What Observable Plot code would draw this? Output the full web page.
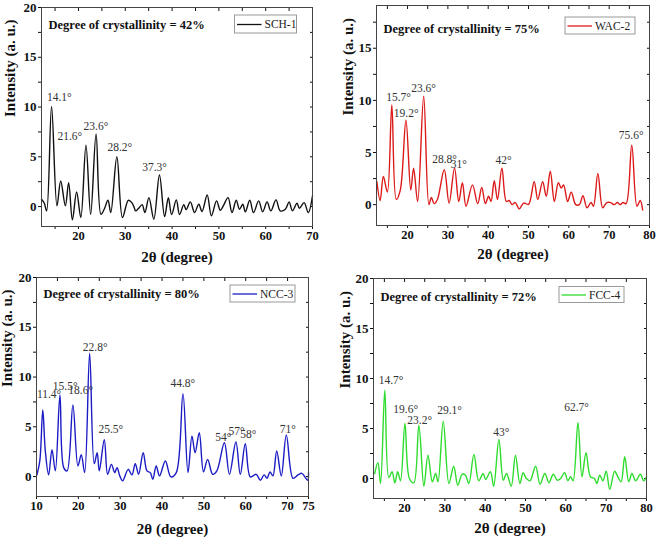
<!DOCTYPE html>
<html><head><meta charset="utf-8">
<script src="https://cdn.jsdelivr.net/npm/d3@7"></script>
<script src="https://cdn.jsdelivr.net/npm/@observablehq/plot@0.6"></script>
<style>
body{margin:0;background:#fff;}
#wrap{position:relative;width:657px;height:543px;background:#fff;overflow:hidden;}
.panel{position:absolute;}
</style></head><body><div id="wrap"></div>
<script>
// ---- SCH-1 ----
const sch1X = [12.1,12.7,13.2,14.25,15.4,16.2,17.2,17.9,18.7,19.6,20.5,21.6,22.6,23.76,24.8,25.5,26.3,26.9,28.2,29.4,30.65,31.4,31.9,32.2,32.8,33.6,34.2,35.05,36.1,37.3,38.4,39.2,39.9,40.9,41.6,42.5,43.0,43.9,44.8,45.7,46.4,47.5,48.4,49.5,50.3,51.0,51.96,52.8,53.7,54.4,55.1,55.65,56.6,57.4,58.5,59.35,60.3,61.1,62.2,63.1,64.2,65.0,65.7,66.7,67.2,68.2,69.1,70];
const sch1Y = [0.73,0.33,-0.43,10.07,0.07,2.57,0.07,2.4,-1.33,1.47,-1.1,6.17,-0.77,7.3,-0.77,-0.27,0.63,-0.6,5.0,-1.1,0.63,0.4,-0.1,-0.43,-0.2,0.2,-0.6,0.9,-1.27,3.17,-1.0,0.9,-0.8,0.67,-0.8,0.2,-0.3,0.47,-0.6,0.23,-0.5,1.17,-0.93,0.57,-0.37,0.13,0.9,-0.6,0.63,-0.27,0.23,-0.53,0.63,-0.6,0.57,-0.53,0.47,-0.43,0.67,-0.43,-0.27,0.47,-0.43,0.33,-0.17,0.4,-0.6,1.07];
const sch1PeakText = ["14.1°","21.6°","23.6°","28.2°","37.3°"];
const sch1PeakX = [13.25,15.5,21.1,26.2,33.6];
const sch1PeakY = [10.6,6.7,7.7,5.6,3.6];

// ---- WAC-2 ----
const wac2X = [12.4,13.2,14.0,15.0,16.1,17.2,18.2,19.6,20.8,21.5,22.5,24.0,25.3,25.9,26.6,27.4,29.1,30.3,31.65,32.7,33.6,34.5,36.1,37.4,38.4,39.3,40.1,40.7,41.5,42.3,43.4,44.5,45.2,45.9,46.7,47.7,48.8,50.0,51.4,52.3,53.5,54.4,55.4,56.4,57.4,58.1,58.7,59.7,60.6,61.7,62.6,63.5,64.5,65.5,66.1,67.2,68.4,69.4,70.4,71.2,72.1,72.7,73.4,74.2,75.6,76.9,77.7,78.3];
const wac2Y = [2.2,0.4,2.7,1.2,9.55,0.5,1.4,8.1,1.4,3.5,0.3,10.4,0,0.7,0.1,0.5,3.35,0.15,3.5,0.3,2.1,-0.15,1.9,0.1,1.65,0.1,0.8,0.3,2.3,0.5,3.5,0.3,0.4,0,0.2,-0.4,0.15,0.03,2.2,0.5,2.2,0.8,3.2,0.3,2.1,1.6,1.9,0.3,1.2,0,0,0.85,-0.3,0.2,-0.15,3.0,-0.3,0.2,0.2,0,0.2,0,0.2,0.1,5.7,-0.15,0.4,-0.5];
const wac2PeakText = ["15.7°","19.2°","23.6°","28.8°","31°","42°","75.6°"];
const wac2PeakX = [14.7,16.6,20.9,26.1,30.7,41.8,72.4];
const wac2PeakY = [9.97,8.4,10.8,4.0,3.5,3.9,6.3];

// ---- NCC-3 ----
const ncc3X = [10.1,10.8,11.5,12.1,12.9,13.7,14.5,15.6,16.5,17.3,18.7,19.9,20.7,21.5,22.7,23.8,24.5,25.0,26.2,27.0,27.9,28.7,29.25,29.9,30.6,31.9,32.8,33.6,34.4,35.5,36.4,37.2,37.8,38.6,39.4,40.8,42.1,43.4,45.0,46.2,47.15,47.9,48.9,49.9,50.9,52.1,53.1,54.9,56.1,57.65,58.7,59.9,61.1,62.5,63.5,64.4,65.1,65.8,66.5,67.4,68.5,69.7,71.3,72.5,73.4,74.8,75];
const ncc3Y = [0.17,1.6,6.7,2.6,0.17,2.7,0.57,8.2,0.9,0.57,7.2,1.07,2.2,0.4,12.4,1.3,2.4,0.57,3.7,0.23,1.23,0.4,0.9,0.07,-0.43,0.73,0.17,1.3,0.23,2.4,0.57,0.4,-0.27,1.07,0.07,1.57,-0.03,0.4,8.33,0.4,4.07,2.4,4.4,0.47,1.73,0.23,0.57,3.4,0.23,3.47,0.23,3.3,-0.03,0.23,-0.37,0.17,-0.17,0.47,0.07,2.57,0.07,4.17,-0.17,0.17,0.33,-0.37,0.4];
const ncc3PeakText = ["11.4°","15.5°","18.6°","22.8°","25.5°","44.8°","54°","57°","58°","71°"];
const ncc3PeakX = [10.1,13.9,17.6,21.06,24.8,42.0,52.7,55.9,58.7,68.1];
const ncc3PeakY = [7.9,8.73,8.33,12.57,4.33,9.0,3.57,4.13,3.9,4.4];

// ---- FCC-4 ----
const fcc4X = [12.6,13.4,14.05,15.1,16.1,16.9,17.6,18.3,19.0,20.1,21.2,22.3,23.55,24.8,25.8,26.9,27.7,28.3,29.6,31.0,32.2,33.2,34.3,35.1,35.95,37.2,38.4,39.5,40.1,41.3,42.1,43.4,44.5,45.3,46.45,47.5,48.6,49.4,50.2,51.1,52.5,53.6,54.8,55.8,56.9,57.85,58.7,59.7,60.5,61.2,61.8,63.0,64.0,65.0,66.1,67.1,67.7,68.4,69.2,70.0,70.9,72.1,72.9,73.7,74.6,75.6,76.4,77.3,78.5,79.3,80];
const fcc4Y = [0.5,1.57,-0.5,8.83,0.1,0.67,-0.43,0.67,-0.23,5.5,0,-0.43,5.33,-0.77,2.33,-0.33,0.5,-0.33,5.73,-0.5,1.23,-0.67,0.43,0.33,-0.5,2.4,-0.23,0.5,-0.1,0.67,-0.77,3.9,-0.17,0.5,-0.77,2.33,-0.5,0.57,0,-0.23,1.23,-0.57,0.5,-0.43,0.43,-0.17,0,0.57,-0.23,0.17,-0.23,5.57,0.17,2.57,0.17,0,-0.5,0.33,-0.23,0.73,-1.07,0.73,0.17,-0.33,2.17,-0.33,0.5,-0.23,0.43,-0.23,0.17];
const fcc4PeakText = ["14.7°","19.6°","23.2°","29.1°","43°","62.7°"];
const fcc4PeakX = [13.6,17.2,20.7,28.1,42.0,59.6];
const fcc4PeakY = [9.5,6.6,5.5,6.5,4.23,6.73];

// ---- labels ----
const seriesNames = ["SCH-1","WAC-2","NCC-3","FCC-4"];
const crystText = ["Degree of crystallinity = 42%","Degree of crystallinity = 75%","Degree of crystallinity = 80%","Degree of crystallinity = 72%"];
const xTitle = "2θ (degree)";
const yTitle = "Intensity (a. u.)";
const xLabels1 = [20,30,40,50,60,70];
const xLabels2 = [20,30,40,50,60,70,80];
const xLabels3 = [10,20,30,40,50,60,70,75];
const xLabels4 = [20,30,40,50,60,70,80];

const panels = [
  {name: seriesNames[0], crys: crystText[0], xs: sch1X, ys: sch1Y, pt: sch1PeakText, px: sch1PeakX, py: sch1PeakY,
   color: "#111111", xDomain: [12.1,70], yDomain: [-2,20], xLabels: xLabels1,
   left: 0, top: 0, w: 330, h: 270, mL: 41, mR: 18, mT: 7, mB: 44, crysDy: 21, yTitleDx: -31, xTitleDy: 35,
   legRight: 15.5, legTop: 8, legW: 62, legH: 18},
  {name: seriesNames[1], crys: crystText[1], xs: wac2X, ys: wac2Y, pt: wac2PeakText, px: wac2PeakX, py: wac2PeakY,
   color: "#dd1a1a", xDomain: [12.3,80], yDomain: [-2,19.1], xLabels: xLabels2,
   left: 330, top: 0, w: 327, h: 270, mL: 46, mR: 8, mT: 5, mB: 45, crysDy: 27, yTitleDx: -28, xTitleDy: 33,
   legRight: 14, legTop: 12, legW: 70, legH: 17},
  {name: seriesNames[2], crys: crystText[2], xs: ncc3X, ys: ncc3Y, pt: ncc3PeakText, px: ncc3PeakX, py: ncc3PeakY,
   color: "#1c1cc4", xDomain: [10,75], yDomain: [-2,20], xLabels: xLabels3,
   left: 0, top: 270, w: 330, h: 273, mL: 36, mR: 22, mT: 7, mB: 47, crysDy: 20.5, yTitleDx: -29, xTitleDy: 37,
   legRight: 13, legTop: 8, legW: 65, legH: 17},
  {name: seriesNames[3], crys: crystText[3], xs: fcc4X, ys: fcc4Y, pt: fcc4PeakText, px: fcc4PeakX, py: fcc4PeakY,
   color: "#2edc2e", xDomain: [12.3,80], yDomain: [-2,20], xLabels: xLabels4,
   left: 330, top: 270, w: 327, h: 273, mL: 43, mR: 11, mT: 8, mB: 45, crysDy: 22.5, yTitleDx: -28, xTitleDy: 34.5,
   legRight: 22, legTop: 8.5, legW: 65, legH: 16}
];

const FONT = "'Liberation Serif', 'Times New Roman', serif";
const wrap = document.getElementById("wrap");

for (const c of panels) {
  const data = c.xs.map((x, i) => ({x, y: c.ys[i]})).filter(d => d.y !== undefined);
  const peaks = c.pt.map((t, i) => ({t, x: c.px[i], y: c.py[i]}));
  const [x0, x1] = c.xDomain, [y0, y1] = c.yDomain;
  const xTicks = d3.range(Math.ceil(x0 / 5) * 5, x1 + 0.001, 5);
  const yTicks = d3.range(0, y1 + 0.001, 2.5);
  const xLab = new Set(c.xLabels);
  const chart = Plot.plot({
    width: c.w, height: c.h,
    marginLeft: c.mL, marginRight: c.mR, marginTop: c.mT, marginBottom: c.mB,
    x: {domain: c.xDomain},
    y: {domain: c.yDomain},
    style: {fontFamily: FONT, fontSize: "12px", color: "#111", background: "white", overflow: "visible"},
    marks: [
      Plot.axisX({anchor: "bottom", ticks: xTicks, tickSize: 3, tickPadding: 2, tickFormat: d => xLab.has(d) ? String(d) : "", label: null, fontSize: 12.5, fontWeight: "bold"}),
      Plot.axisX({anchor: "top", ticks: xTicks, tickSize: 3, insetTop: 3, tickFormat: () => "", label: null}),
      Plot.axisY({anchor: "left", ticks: yTicks, tickSize: 3, tickPadding: 2, tickFormat: d => d % 5 === 0 ? String(d) : "", label: null, fontSize: 13, fontWeight: "bold"}),
      Plot.axisY({anchor: "right", ticks: yTicks, tickSize: 3, insetRight: 3, tickFormat: () => "", label: null}),
      Plot.line(data, {x: "x", y: "y", stroke: c.color, strokeWidth: 1.4, curve: "catmull-rom"}),
      Plot.text(peaks, {x: "x", y: "y", text: "t", textAnchor: "start", lineAnchor: "bottom", fontSize: 11.5, fill: "#333"}),
      Plot.text([c.crys], {text: d => d, frameAnchor: "top-left", dx: 7, dy: c.crysDy, textAnchor: "start", lineAnchor: "bottom", fontWeight: "bold", fontSize: 12.5, fill: "#111"}),
      Plot.text([yTitle], {text: d => d, frameAnchor: "left", dx: c.yTitleDx, rotate: -90, fontWeight: "bold", fontSize: 15, fill: "#111"}),
      Plot.text([xTitle], {text: d => d, frameAnchor: "bottom", dy: c.xTitleDy, fontWeight: "bold", fontSize: 15, fill: "#111"}),
      Plot.frame({stroke: "#444"})
    ]
  });
  // legend box
  const svg = d3.select(chart);
  const bx = c.w - c.mR - c.legRight - c.legW, by = c.mT + c.legTop;
  const g = svg.append("g");
  g.append("rect").attr("x", bx).attr("y", by).attr("width", c.legW).attr("height", c.legH)
    .attr("fill", "white").attr("stroke", "#999").attr("stroke-width", 1);
  g.append("line").attr("x1", bx + 2.5).attr("x2", bx + 27).attr("y1", by + c.legH / 2 + 0.5).attr("y2", by + c.legH / 2 + 0.5)
    .attr("stroke", c.color).attr("stroke-width", 1.3);
  g.append("text").attr("x", bx + 30).attr("y", by + c.legH / 2 + 4).text(c.name)
    .attr("text-anchor", "start")
    .attr("font-family", FONT).attr("font-size", 11.5).attr("fill", "#222");
  const div = document.createElement("div");
  div.className = "panel";
  div.style.left = c.left + "px";
  div.style.top = c.top + "px";
  div.appendChild(chart);
  wrap.appendChild(div);
}
</script>
</body></html>
